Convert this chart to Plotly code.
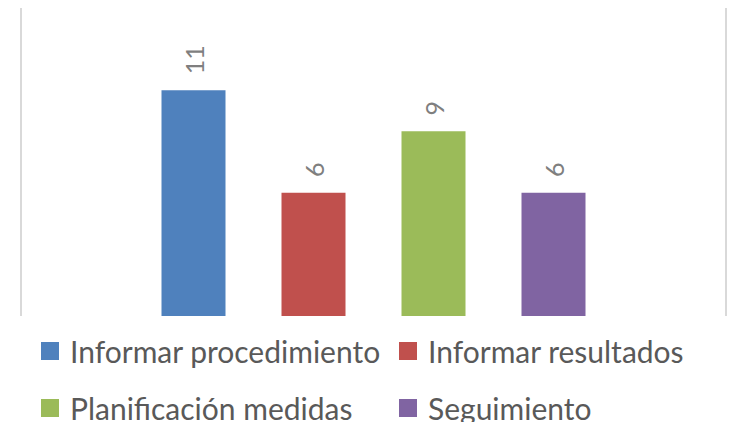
import plotly.graph_objects as go

# Category (single group) and the four series drawn as grouped bars
category = [""]
series_names = ["Informar procedimiento", "Informar resultados",
                "Planificación medidas", "Seguimiento"]
series_values = [11, 6, 9, 6]
series_colors = ["#4f81bd", "#c0504d", "#9bbb59", "#8064a2"]

# legend layout: two columns x two rows, one legend box per entry
legend_ids = ["legend", "legend2", "legend3", "legend4"]
legend_x_px = [30, 388, 30, 388]      # left edge of each entry
legend_y_px = [351, 351, 408, 408]    # vertical centre of each entry

W, H = 730, 422
FONT = "Lato, Calibri, sans-serif"
PAD = "\u00a0\u00a0"  # space between bar top and its value label

fig = go.Figure()
for name, val, color, lg in zip(series_names, series_values, series_colors, legend_ids):
    fig.add_trace(go.Bar(
        x=category, y=[val], name=name,
        marker=dict(color=color, line=dict(width=0)),
        text=[val], texttemplate=PAD + "%{y}",
        textposition="outside", textangle=-90, constraintext="none",
        cliponaxis=False,
        textfont=dict(family=FONT, size=25, color="#7f7f7f"),
        showlegend=False,
    ))
    # legend entry with a larger square swatch
    fig.add_trace(go.Scatter(
        x=[None], y=[None], mode="markers", name=name,
        marker=dict(symbol="square", size=16, color=color,
                    line=dict(width=2, color=color)),
        legend=lg, showlegend=True,
    ))

legend_layout = {}
for lg, lx, ly in zip(legend_ids, legend_x_px, legend_y_px):
    legend_layout[lg] = dict(
        orientation="h", xref="container", yref="container",
        xanchor="left", yanchor="middle", x=lx / W, y=1 - ly / H,
        font=dict(family=FONT, size=30, color="#595959"),
        bgcolor="rgba(0,0,0,0)", itemsizing="trace",
    )

fig.update_layout(
    width=W, height=H,
    margin=dict(l=22, r=5, t=8, b=106, autoexpand=False),
    paper_bgcolor="white", plot_bgcolor="white",
    barmode="group", bargap=0.3172, bargroupgap=0.4667,
    xaxis=dict(showticklabels=False, showgrid=False, zeroline=False,
               showline=False, ticks=""),
    yaxis=dict(range=[0, 15], showticklabels=False, showgrid=False,
               zeroline=False, ticks="", showline=True, mirror=True,
               linecolor="#d9d9d9", linewidth=2),
    **legend_layout,
)

fig.write_html("out.html")
